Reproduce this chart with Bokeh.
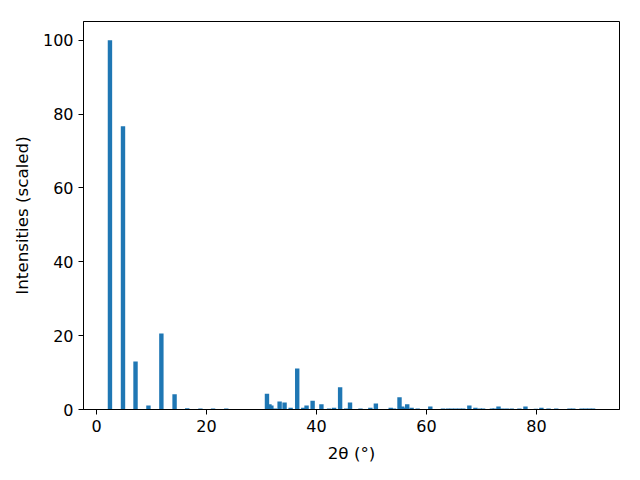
from bokeh.plotting import figure
from bokeh.models import Range1d, FixedTicker
from bokeh.embed import file_html
from bokeh.resources import INLINE

# 2-theta positions (degrees) and scaled intensities
two_theta = [2.45, 4.82, 7.1, 9.45, 11.8, 14.2, 16.5, 18.9, 21.2, 23.6,
             31.0, 31.45, 31.8, 32.5, 33.3, 34.2, 35.3, 36.5, 37.6, 38.2,
             39.3, 40.9, 42.3, 43.2, 44.3, 45.4, 46.1, 48.0, 49.8, 50.8,
             53.5, 54.1, 55.1, 55.6, 56.0, 56.5, 57.3, 58.4, 60.7, 63.0,
             63.9, 64.6, 65.3, 66.0, 66.7, 67.8, 68.9, 69.7, 70.3, 71.9,
             72.4, 73.1, 73.8, 74.6, 75.5, 76.9, 78.0, 79.9, 80.9, 82.2,
             83.6, 86.0, 86.7, 88.2, 88.9, 89.6, 90.3]
intensity = [100.0, 76.7, 13.0, 1.1, 20.6, 4.1, 0.35, 0.3, 0.3, 0.3,
             4.3, 1.4, 1.1, 0.3, 2.2, 1.9, 0.5, 11.1, 0.5, 1.1,
             2.4, 1.4, 0.3, 0.5, 6.0, 0.3, 1.9, 0.3, 0.5, 1.6,
             0.5, 0.3, 3.3, 0.8, 0.5, 1.4, 0.5, 0.3, 0.8, 0.3,
             0.3, 0.3, 0.3, 0.3, 0.3, 1.1, 0.5, 0.3, 0.3, 0.3,
             0.3, 0.8, 0.3, 0.3, 0.3, 0.3, 0.8, 0.2, 0.5, 0.3,
             0.3, 0.3, 0.3, 0.3, 0.3, 0.3, 0.3]

x_ticks = [0, 20, 40, 60, 80]
y_ticks = [0, 20, 40, 60, 80, 100]

FONT = "DejaVu Sans"

p = figure(frame_width=536, frame_height=388,
           min_border_left=83, min_border_right=21,
           min_border_top=21, min_border_bottom=71,
           output_backend="svg", toolbar_location=None,
           x_range=Range1d(-2.36, 95.1), y_range=Range1d(0, 105.1))

p.vbar(x=two_theta, top=intensity, width=0.8, bottom=0,
       fill_color="#1f77b4", line_color=None)

p.xgrid.visible = False
p.ygrid.visible = False
p.outline_line_color = "black"
p.outline_line_width = 1
p.outline_line_alpha = 1

p.xaxis.ticker = FixedTicker(ticks=x_ticks)
p.yaxis.ticker = FixedTicker(ticks=y_ticks)
p.xaxis.axis_label = "2θ (°)"
p.yaxis.axis_label = "Intensities (scaled)"

for ax in (p.xaxis, p.yaxis):
    ax.axis_line_color = "black"
    ax.major_tick_line_color = "black"
    ax.major_tick_in = 0
    ax.major_tick_out = 5
    ax.minor_tick_line_color = None
    ax.major_label_text_font = FONT
    ax.major_label_text_font_size = "16px"
    ax.major_label_text_color = "black"
    ax.axis_label_text_font = FONT
    ax.axis_label_text_font_size = "16.7px"
    ax.axis_label_text_font_style = "normal"
    ax.axis_label_text_color = "black"
    ax.major_label_standoff = 5
    ax.axis_label_standoff = 8

open("out.html", "w").write(file_html(p, INLINE))
